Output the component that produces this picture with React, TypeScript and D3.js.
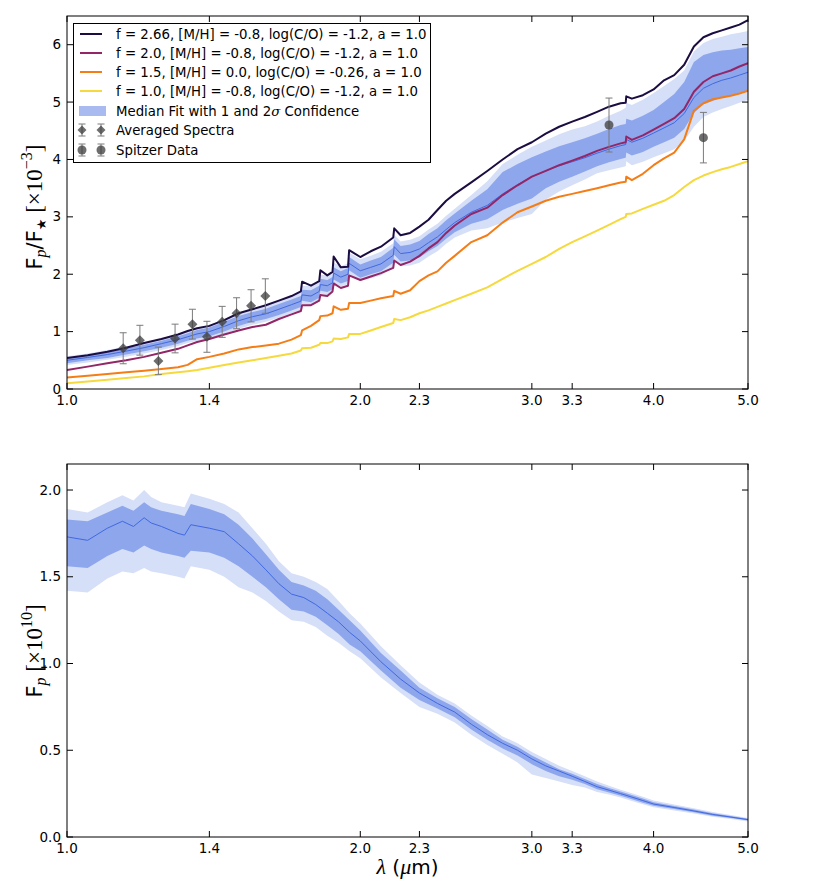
import React from 'react';
import * as d3 from 'd3';

// ---------- top panel: wavelength grid & model spectra (Fp/F* x 1e-3) ----------
const WL = [1.00,1.05,1.10,1.15,1.20,1.25,1.30,1.33,1.36,1.40,1.45,1.50,1.55,1.60,1.65,
  1.70,1.738,1.743,1.78,1.815,1.82,1.85,1.873,1.878,1.91,1.943,1.948,2.00,2.05,2.10,2.162,2.167,2.20,2.25,
  2.30,2.35,2.40,2.45,2.50,2.60,2.70,2.80,2.90,3.00,3.10,3.20,3.30,3.40,3.50,3.60,3.70,
  3.745,3.75,
  3.80,3.90,4.00,4.10,4.20,4.30,4.40,4.50,4.60,4.70,4.80,4.90,5.00];
const F266 = [0.54,0.59,0.65,0.72,0.80,0.87,0.95,1.01,1.06,1.10,1.20,1.32,1.39,1.46,1.54,
  1.62,1.70,1.87,1.80,1.88,2.07,1.98,2.04,2.31,2.12,2.13,2.42,2.30,2.40,2.48,2.64,2.80,2.68,2.72,
  2.83,2.95,3.12,3.28,3.40,3.60,3.80,4.00,4.18,4.30,4.45,4.57,4.66,4.74,4.83,4.92,4.98,
  4.99,5.10,
  5.06,5.12,5.22,5.38,5.47,5.65,5.97,6.13,6.20,6.25,6.30,6.35,6.43];
const F20 = [0.33,0.39,0.45,0.50,0.56,0.63,0.70,0.76,0.82,0.87,0.95,1.02,1.08,1.12,1.22,
  1.30,1.36,1.46,1.46,1.54,1.64,1.62,1.70,1.84,1.76,1.80,1.98,1.90,1.96,2.02,2.11,2.24,2.16,2.22,
  2.32,2.45,2.56,2.72,2.85,3.05,3.16,3.38,3.55,3.70,3.80,3.90,3.98,4.06,4.15,4.22,4.28,
  4.30,4.40,
  4.34,4.42,4.52,4.62,4.72,4.88,5.18,5.35,5.45,5.50,5.55,5.62,5.68];
const F15 = [0.20,0.23,0.26,0.29,0.32,0.35,0.38,0.42,0.52,0.56,0.62,0.69,0.73,0.76,0.79,
  0.86,0.94,1.02,1.10,1.20,1.27,1.28,1.32,1.44,1.38,1.40,1.50,1.50,1.54,1.58,1.62,1.71,1.66,1.72,
  1.88,1.98,2.05,2.20,2.32,2.56,2.68,2.90,3.08,3.18,3.28,3.35,3.40,3.45,3.50,3.55,3.60,
  3.61,3.70,
  3.64,3.75,3.90,4.02,4.12,4.35,4.85,4.98,5.05,5.08,5.11,5.15,5.20];
const F10 = [0.10,0.13,0.16,0.19,0.22,0.26,0.29,0.31,0.33,0.37,0.42,0.46,0.50,0.54,0.58,
  0.62,0.67,0.71,0.72,0.77,0.80,0.80,0.83,0.88,0.87,0.90,0.96,0.96,1.02,1.08,1.15,1.22,1.20,1.25,
  1.32,1.37,1.43,1.49,1.55,1.66,1.77,1.92,2.06,2.18,2.30,2.44,2.56,2.66,2.76,2.86,2.96,
  3.00,3.05,
  3.06,3.14,3.21,3.28,3.38,3.52,3.64,3.72,3.78,3.83,3.87,3.92,3.97];
const MED_TOP = [0.50,0.55,0.60,0.66,0.72,0.79,0.86,0.91,0.96,1.00,1.09,1.19,1.26,1.31,1.39,
  1.47,1.53,1.64,1.62,1.70,1.82,1.80,1.85,2.02,1.95,2.00,2.19,2.06,2.12,2.18,2.33,2.48,2.36,2.38,
  2.44,2.55,2.65,2.78,2.90,3.08,3.20,3.40,3.56,3.70,3.80,3.89,3.96,4.03,4.11,4.18,4.24,
  4.26,4.35,
  4.30,4.37,4.46,4.55,4.64,4.80,5.08,5.24,5.32,5.38,5.42,5.47,5.52];
const TOP_HI2 = [0.57,0.62,0.68,0.74,0.81,0.88,0.96,1.01,1.07,1.11,1.21,1.32,1.40,1.45,1.53,
  1.62,1.69,1.80,1.79,1.87,1.99,1.98,2.03,2.20,2.14,2.19,2.38,2.26,2.32,2.39,2.54,2.69,2.57,2.60,
  2.66,2.78,2.88,3.02,3.14,3.38,3.62,3.92,4.08,4.22,4.33,4.44,4.52,4.58,4.66,4.76,4.85,
  4.90,4.99,
  4.95,5.04,5.16,5.28,5.40,5.55,5.88,6.03,6.10,6.14,6.18,6.21,6.24];
const TOP_HI1 = [0.54,0.59,0.64,0.71,0.77,0.84,0.92,0.97,1.03,1.07,1.17,1.27,1.34,1.40,1.48,
  1.56,1.62,1.73,1.72,1.80,1.92,1.90,1.95,2.12,2.05,2.11,2.30,2.17,2.24,2.30,2.46,2.61,2.49,2.52,
  2.58,2.70,2.80,2.94,3.06,3.28,3.48,3.78,3.92,4.04,4.14,4.23,4.30,4.37,4.45,4.53,4.60,
  4.62,4.71,
  4.68,4.76,4.86,5.00,5.14,5.35,5.70,5.82,5.87,5.90,5.91,5.94,5.96];
const TOP_LO1 = [0.45,0.50,0.54,0.60,0.66,0.72,0.79,0.84,0.88,0.92,1.00,1.10,1.17,1.22,1.29,
  1.37,1.43,1.54,1.51,1.59,1.71,1.69,1.74,1.91,1.84,1.88,2.07,1.94,2.00,2.05,2.20,2.34,2.22,2.24,
  2.29,2.40,2.49,2.62,2.73,2.88,2.96,3.12,3.23,3.32,3.50,3.61,3.70,3.79,3.88,3.95,4.01,
  4.03,4.12,
  4.07,4.13,4.22,4.30,4.38,4.53,4.81,4.96,5.02,5.08,5.12,5.16,5.21];
const TOP_LO2 = [0.42,0.46,0.51,0.56,0.62,0.68,0.75,0.80,0.84,0.88,0.96,1.05,1.12,1.17,1.24,
  1.32,1.38,1.48,1.46,1.54,1.66,1.64,1.68,1.85,1.78,1.83,2.01,1.88,1.93,1.98,2.12,2.26,2.14,2.15,
  2.20,2.31,2.40,2.53,2.64,2.76,2.80,2.90,2.98,3.05,3.30,3.44,3.55,3.65,3.76,3.81,3.86,
  3.88,3.97,
  3.90,3.96,4.04,4.11,4.18,4.32,4.57,4.74,4.82,4.88,4.93,4.99,5.04];

// observations
const AVG_WL = [1.142,1.188,1.241,1.291,1.345,1.392,1.443,1.493,1.545,1.598];
const AVG_VAL = [0.71,0.85,0.49,0.88,1.13,0.91,1.17,1.32,1.45,1.62];
const AVG_ERR = [0.27,0.26,0.24,0.25,0.26,0.27,0.27,0.27,0.28,0.30];
const SPITZER_WL = [3.6,4.5];
const SPITZER_VAL = [4.60,4.38];
const SPITZER_ERR = [0.47,0.44];

// ---------- bottom panel: planet flux (x 1e10) ----------
const BWL = [1.0,1.05,1.1,1.14,1.17,1.2,1.22,1.25,1.3,1.32,1.34,1.4,1.45,1.5,1.55,1.6,1.65,1.7,1.75,1.8,1.85,1.9,1.95,2.0,2.1,2.2,2.3,2.4,2.5,2.6,2.7,2.8,2.9,3.0,3.1,3.2,3.3,3.4,3.5,3.6,3.7,3.8,3.9,4.0,4.2,4.4,4.6,4.8,5.0];
const BMED = [1.73,1.71,1.78,1.82,1.79,1.84,1.81,1.79,1.75,1.74,1.80,1.78,1.76,1.69,1.62,1.54,1.46,1.40,1.38,1.34,1.29,1.24,1.18,1.13,1.01,0.91,0.83,0.77,0.72,0.65,0.59,0.54,0.50,0.45,0.41,0.38,0.35,0.32,0.29,0.27,0.25,0.23,0.21,0.19,0.17,0.15,0.13,0.115,0.10];
const BHI2 = [1.89,1.87,1.93,1.97,1.94,2.00,1.96,1.93,1.91,1.90,1.98,1.95,1.92,1.87,1.78,1.69,1.59,1.52,1.50,1.47,1.43,1.36,1.29,1.23,1.10,0.99,0.89,0.82,0.77,0.70,0.64,0.58,0.54,0.49,0.45,0.41,0.38,0.35,0.32,0.295,0.273,0.252,0.232,0.21,0.188,0.166,0.144,0.127,0.11];
const BHI1 = [1.83,1.82,1.87,1.91,1.88,1.93,1.90,1.88,1.86,1.85,1.92,1.89,1.86,1.80,1.72,1.63,1.54,1.47,1.45,1.42,1.37,1.31,1.25,1.19,1.06,0.96,0.86,0.80,0.75,0.68,0.62,0.56,0.52,0.47,0.43,0.39,0.365,0.335,0.305,0.283,0.262,0.242,0.222,0.20,0.179,0.158,0.137,0.121,0.105];
const BLO1 = [1.56,1.55,1.62,1.66,1.64,1.68,1.66,1.64,1.62,1.61,1.65,1.64,1.61,1.56,1.50,1.44,1.37,1.31,1.30,1.27,1.22,1.17,1.11,1.07,0.96,0.86,0.79,0.74,0.69,0.62,0.56,0.51,0.47,0.42,0.38,0.35,0.33,0.305,0.275,0.257,0.238,0.218,0.198,0.18,0.161,0.142,0.123,0.109,0.095];
const BLO2 = [1.42,1.41,1.49,1.53,1.52,1.55,1.53,1.52,1.50,1.49,1.56,1.54,1.50,1.44,1.41,1.36,1.30,1.25,1.24,1.21,1.16,1.12,1.07,1.03,0.92,0.83,0.75,0.71,0.66,0.59,0.53,0.48,0.43,0.36,0.34,0.32,0.30,0.285,0.26,0.245,0.228,0.208,0.189,0.172,0.153,0.135,0.117,0.104,0.09];

// ticks
const X_TICKS = [1.0,1.4,2.0,2.3,3.0,3.3,4.0,5.0];
const X_TICK_LABELS = ['1.0','1.4','2.0','2.3','3.0','3.3','4.0','5.0'];
const TOP_Y_TICKS = [0,1,2,3,4,5,6];
const BOT_Y_TICKS = [0,0.5,1.0,1.5,2.0];
const BOT_Y_LABELS = ['0.0','0.5','1.0','1.5','2.0'];

const LEGEND_LABELS = [
  'f = 2.66, [M/H] = -0.8, log(C/O) = -1.2, a = 1.0',
  'f = 2.0, [M/H] = -0.8, log(C/O) = -1.2, a = 1.0',
  'f = 1.5, [M/H] = 0.0, log(C/O) = -0.26, a = 1.0',
  'f = 1.0, [M/H] = -0.8, log(C/O) = -1.2, a = 1.0',
];

const COLORS = ['#1b0c41', '#932667', '#f57d15', '#f6d93c'];
const BLUE = '#4169e1';
const BAND2 = '#d6dff8';
const BAND1 = '#8ea6ec';
const SANS = 'DejaVu Sans, sans-serif';
const SERIF = 'DejaVu Serif, serif';
const CM = 'Liberation Serif, serif';

const L = 67, R = 748;
const T1 = 16, B1 = 389, T2 = 464, B2 = 837;

const x = d3.scaleLog().domain([1, 5]).range([L, R]);
const yTop = d3.scaleLinear().domain([0, 6.5]).range([B1, T1]);
const yBot = d3.scaleLinear().domain([0, 2.15]).range([B2, T2]);

function Axes({ top, bottom, y, yTicks, yLabels }: any) {
  const tl = 6;
  return (
    <g>
      {X_TICKS.map((t, i) => (
        <g key={'x' + i}>
          <line x1={x(t)} x2={x(t)} y1={bottom} y2={bottom - tl} stroke="#000" />
          <line x1={x(t)} x2={x(t)} y1={top} y2={top + tl} stroke="#000" />
          <text x={x(t)} y={bottom + 16} textAnchor="middle" fontFamily={SANS} fontSize={13.5}>{X_TICK_LABELS[i]}</text>
        </g>
      ))}
      {yTicks.map((t: number, i: number) => (
        <g key={'y' + i}>
          <line x1={L} x2={L + tl} y1={y(t)} y2={y(t)} stroke="#000" />
          <line x1={R} x2={R - tl} y1={y(t)} y2={y(t)} stroke="#000" />
          <text x={L - 6} y={y(t) + 4.5} textAnchor="end" fontFamily={SANS} fontSize={13.5}>{yLabels[i]}</text>
        </g>
      ))}
      <rect x={L} y={top} width={R - L} height={bottom - top} fill="none" stroke="#000" strokeWidth={1} />
    </g>
  );
}

function Diamond({ cx, cy, s }: any) {
  return <path d={`M${cx},${cy - s}L${cx + s},${cy}L${cx},${cy + s}L${cx - s},${cy}Z`} fill="#3c3c3c" fillOpacity={0.75} />;
}

function ErrBar({ cx, y1, y2 }: any) {
  return (
    <g stroke="#7a7a7a" strokeWidth={1}>
      <line x1={cx} x2={cx} y1={y1} y2={y2} />
      <line x1={cx - 3.5} x2={cx + 3.5} y1={y1} y2={y1} />
      <line x1={cx - 3.5} x2={cx + 3.5} y1={y2} y2={y2} />
    </g>
  );
}

export default function App() {
  const idx = d3.range(WL.length);
  const bidx = d3.range(BWL.length);
  const areaTop = (lo: number[], hi: number[]) =>
    d3.area<number>().x(i => x(WL[i])).y0(i => yTop(lo[i])).y1(i => yTop(hi[i]))(idx) as string;
  const lineTop = (v: number[]) => d3.line<number>().x(i => x(WL[i])).y(i => yTop(v[i]))(idx) as string;
  const areaBot = (lo: number[], hi: number[]) =>
    d3.area<number>().x(i => x(BWL[i])).y0(i => yBot(lo[i])).y1(i => yBot(hi[i]))(bidx) as string;
  const lineBot = d3.line<number>().x(i => x(BWL[i])).y(i => yBot(BMED[i]))(bidx) as string;

  const models = [F266, F20, F15, F10];
  const legRows = [34, 53, 72, 91, 111, 130, 150];

  return (
    <svg width={837} height={883} style={{ position: 'absolute', left: 0, top: 0, background: '#fff' }}>
      <defs>
        <clipPath id="c1"><rect x={L} y={T1} width={R - L} height={B1 - T1} /></clipPath>
        <clipPath id="c2"><rect x={L} y={T2} width={R - L} height={B2 - T2} /></clipPath>
      </defs>

      {/* top panel */}
      <g clipPath="url(#c1)">
        <path d={areaTop(TOP_LO2, TOP_HI2)} fill={BAND2} />
        <path d={areaTop(TOP_LO1, TOP_HI1)} fill={BAND1} />
        <path d={lineTop(MED_TOP)} fill="none" stroke={BLUE} strokeWidth={1} />
        {[3, 2, 1, 0].map(k => (
          <path key={k} d={lineTop(models[k])} fill="none" stroke={COLORS[k]} strokeWidth={2} strokeLinejoin="round" />
        ))}
        {AVG_WL.map((w, i) => (
          <g key={'a' + i}>
            <ErrBar cx={x(w)} y1={yTop(AVG_VAL[i] - AVG_ERR[i])} y2={yTop(AVG_VAL[i] + AVG_ERR[i])} />
            <Diamond cx={x(w)} cy={yTop(AVG_VAL[i])} s={5} />
          </g>
        ))}
        {SPITZER_WL.map((w, i) => (
          <g key={'s' + i}>
            <ErrBar cx={x(w)} y1={yTop(SPITZER_VAL[i] - SPITZER_ERR[i])} y2={yTop(SPITZER_VAL[i] + SPITZER_ERR[i])} />
            <circle cx={x(w)} cy={yTop(SPITZER_VAL[i])} r={4.5} fill="#3c3c3c" fillOpacity={0.75} />
          </g>
        ))}
      </g>
      <Axes top={T1} bottom={B1} y={yTop} yTicks={TOP_Y_TICKS} yLabels={TOP_Y_TICKS.map(String)} />

      {/* legend */}
      <g>
        <rect x={73.5} y={23.5} width={357} height={139} fill="#fff" stroke="#000" strokeWidth={1} />
        {LEGEND_LABELS.map((lab, i) => (
          <g key={'l' + i}>
            <line x1={80} x2={102} y1={legRows[i]} y2={legRows[i]} stroke={COLORS[i]} strokeWidth={2} />
            <text x={116} y={legRows[i] + 5} fontFamily={SANS} fontSize={13.3}>{lab}</text>
          </g>
        ))}
        <rect x={79} y={legRows[4] - 5} width={27} height={10} fill="#a8baf0" />
        <text x={116} y={legRows[4] + 5} fontFamily={SANS} fontSize={13.3}>
          Median Fit with 1 and 2<tspan fontFamily={SERIF} fontStyle="italic">σ</tspan> Confidence
        </text>
        {[82, 101].map(cx => (
          <g key={'ld' + cx}>
            <ErrBar cx={cx} y1={legRows[5] - 6} y2={legRows[5] + 6} />
            <Diamond cx={cx} cy={legRows[5]} s={4.5} />
            <ErrBar cx={cx} y1={legRows[6] - 6} y2={legRows[6] + 6} />
            <circle cx={cx} cy={legRows[6]} r={4.5} fill="#3c3c3c" fillOpacity={0.75} />
          </g>
        ))}
        <text x={116} y={legRows[5] + 5} fontFamily={SANS} fontSize={13.3}>Averaged Spectra</text>
        <text x={116} y={legRows[6] + 5} fontFamily={SANS} fontSize={13.3}>Spitzer Data</text>
      </g>

      {/* top y label */}
      <text transform={`translate(42,207) rotate(-90)`} textAnchor="middle" fontFamily={SANS} fontSize={21}>
        F<tspan fontFamily={CM} fontStyle="italic" fontSize={16} dy={4}>p</tspan>
        <tspan dy={-4}>/F</tspan>
        <tspan fontSize={13} dy={4}>★</tspan>
        <tspan dy={-4} fontFamily={CM} fontSize={23}> [×10</tspan>
        <tspan fontFamily={CM} fontSize={16} dy={-10}>−3</tspan>
        <tspan fontFamily={CM} fontSize={23} dy={10}>]</tspan>
      </text>

      {/* bottom panel */}
      <g clipPath="url(#c2)">
        <path d={areaBot(BLO2, BHI2)} fill={BAND2} />
        <path d={areaBot(BLO1, BHI1)} fill={BAND1} />
        <path d={lineBot} fill="none" stroke={BLUE} strokeWidth={1} />
      </g>
      <Axes top={T2} bottom={B2} y={yBot} yTicks={BOT_Y_TICKS} yLabels={BOT_Y_LABELS} />

      <text transform={`translate(42,651) rotate(-90)`} textAnchor="middle" fontFamily={SANS} fontSize={21}>
        F<tspan fontFamily={CM} fontStyle="italic" fontSize={16} dy={4}>p</tspan>
        <tspan dy={-4} fontFamily={CM} fontSize={23}> [×10</tspan>
        <tspan fontFamily={CM} fontSize={16} dy={-10}>10</tspan>
        <tspan fontFamily={CM} fontSize={23} dy={10}>]</tspan>
      </text>

      {/* x label */}
      <text x={(L + R) / 2} y={874} textAnchor="middle" fontFamily={SANS} fontSize={20}>
        <tspan fontFamily={CM} fontStyle="italic" fontSize={22}>λ</tspan> (<tspan fontFamily={CM} fontStyle="italic" fontSize={22}>μ</tspan>m)
      </text>
    </svg>
  );
}
